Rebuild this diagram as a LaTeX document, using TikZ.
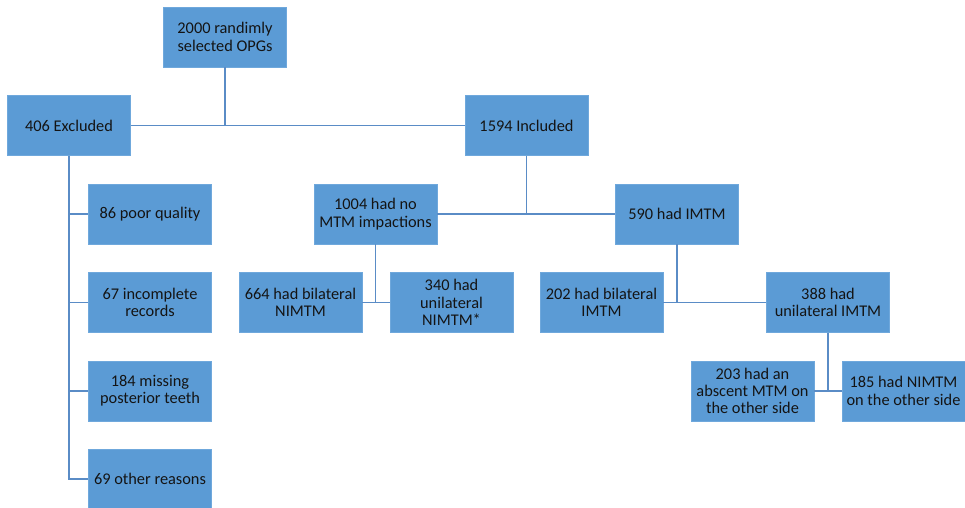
\documentclass[tikz,border=0pt]{standalone}
\usepackage{fontspec}
\setmainfont{Carlito}
\definecolor{boxblue}{HTML}{5B9BD5}
\definecolor{boxedge}{HTML}{6FA8DC}
\definecolor{linecol}{HTML}{5A8CC6}
\definecolor{txt}{HTML}{141414}
\begin{document}
\begin{tikzpicture}[x=1bp,y=-1bp,
  flowbox/.style={rectangle, fill=boxblue, draw=boxedge, line width=0.6bp,
    minimum width=123bp, minimum height=60bp, inner sep=1bp,
    align=center, text=txt, font=\fontsize{16.4}{17.4}\selectfont},
  conn/.style={draw=linecol, line width=1.6bp}]
\useasboundingbox (0,0) rectangle (965,508);
\node[flowbox] (top) at (225,37) {2000 randimly\\selected OPGs};
\node[flowbox] (excl) at (69,125.5) {406 Excluded};
\node[flowbox] (incl) at (526.5,125.5) {1594 Included};
\node[flowbox] (poor) at (150,214) {86 poor quality};
\node[flowbox] (n1004) at (375.5,214) {1004 had no\\MTM impactions};
\node[flowbox] (n590) at (677,214) {590 had IMTM};
\node[flowbox] (inc67) at (150,302.5) {67 incomplete\\records};
\node[flowbox] (n664) at (300.5,302.5) {664 had bilateral\\NIMTM};
\node[flowbox] (n340) at (451.5,302.5) {340 had\\unilateral\\NIMTM*};
\node[flowbox] (n202) at (601.5,302.5) {202 had bilateral\\IMTM};
\node[flowbox] (n388) at (828,302.5) {388 had\\unilateral IMTM};
\node[flowbox] (miss184) at (150,391) {184 missing\\posterior teeth};
\node[flowbox] (n203) at (752.5,391) {203 had an\\abscent MTM on\\the other side};
\node[flowbox] (n185) at (903.5,391) {185 had NIMTM\\on the other side};
\node[flowbox] (other69) at (150,479) {69 other reasons};
% connectors
\draw[conn] (top.south) -- (top.south |- excl.east);
\draw[conn] (excl.east) -- (incl.west);
\draw[conn] (incl.south) -- (incl.south |- n1004.east);
\draw[conn] (n1004.east) -- (n590.west);
\draw[conn] (excl.south) -- (excl.south |- other69.west) -- (other69.west);
\draw[conn] (excl.south |- poor.west) -- (poor.west);
\draw[conn] (excl.south |- inc67.west) -- (inc67.west);
\draw[conn] (excl.south |- miss184.west) -- (miss184.west);
\draw[conn] (n1004.south) -- (n1004.south |- n664.east);
\draw[conn] (n664.east) -- (n340.west);
\draw[conn] (n590.south) -- (n590.south |- n202.east);
\draw[conn] (n202.east) -- (n388.west);
\draw[conn] (n388.south) -- (n388.south |- n203.east);
\draw[conn] (n203.east) -- (n185.west);
\end{tikzpicture}
\end{document}
